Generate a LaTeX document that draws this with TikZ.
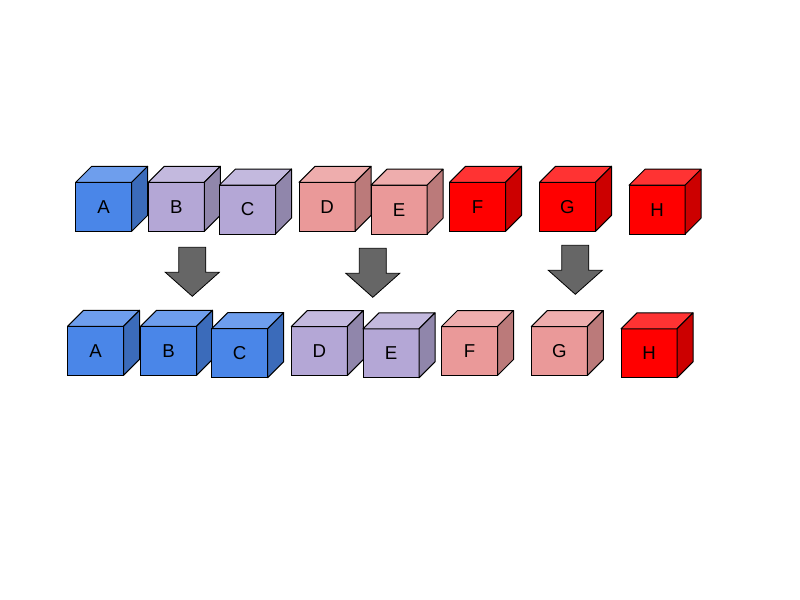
\documentclass[tikz,border=0pt]{standalone}
\usepackage{fontspec}
\setmainfont{Liberation Sans}
\usetikzlibrary{positioning}
\definecolor{cubeblue}{HTML}{4A86E8}
\definecolor{cubepurple}{HTML}{B4A7D6}
\definecolor{cubepink}{HTML}{EA9999}
\definecolor{cubered}{HTML}{FF0000}
\definecolor{arrowgray}{HTML}{666666}

\tikzset{
  face/.style={draw,line width=0.75pt,minimum width=42pt,minimum height=36.75pt,
    inner sep=0pt,outer sep=0pt,font=\fontsize{14}{16}\selectfont},
  facet/.style={draw,line width=0.75pt,line join=round},
  blockarrow/.style={draw,fill=arrowgray,line width=0.6pt,line join=miter}
}

% cube: name, x, y (centre of front face), label, colour
\newcommand\drawcube[5]{%
  \node[face,fill=#5] (#1) at (#2,#3) {#4};
  \draw[facet,fill=#5!80!white] (#1.north west) -- ++(16,-16) -- ++(56,0) -- (#1.north east) -- cycle;
  \draw[facet,fill=#5!80!black] (#1.north east) -- ++(16,-16) -- ++(0,49) -- (#1.south east) -- cycle;
}
% block arrow pointing down: x of tip, y of top
\newcommand\downblock[2]{%
  \draw[blockarrow] (#1-13.5,#2) -- ++(27,0) -- ++(0,25) -- ++(13.5,0)
    -- ++(-27,24) -- ++(-27,-24) -- ++(13.5,0) -- cycle;
}

\begin{document}
\begin{tikzpicture}[x=0.75pt,y=-0.75pt]
\useasboundingbox (0,0) rectangle (800,600);

% before
\drawcube{ta}{103.7}{206.8}{A}{cubeblue}
\drawcube{tb}{176.3}{206.8}{B}{cubepurple}
\drawcube{tc}{247.5}{209.5}{C}{cubepurple}
\drawcube{td}{327}{206.8}{D}{cubepink}
\drawcube{te}{399}{209.7}{E}{cubepink}
\drawcube{tf}{477.5}{206.8}{F}{cubered}
\drawcube{tg}{567.5}{206.8}{G}{cubered}
\drawcube{th}{657}{209.7}{H}{cubered}

\downblock{192.3}{247.3}
\downblock{372.8}{248.3}
\downblock{575.3}{245.3}

% after
\drawcube{ba}{95.5}{350.8}{A}{cubeblue}
\drawcube{bb}{168.5}{350.8}{B}{cubeblue}
\drawcube{bc}{239.7}{353.2}{C}{cubeblue}
\drawcube{bd}{319.3}{351}{D}{cubepurple}
\drawcube{be}{391}{353.3}{E}{cubepurple}
\drawcube{bf}{469.5}{351}{F}{cubepink}
\drawcube{bg}{559.3}{351}{G}{cubepink}
\drawcube{bh}{649}{353.3}{H}{cubered}
\end{tikzpicture}
\end{document}
